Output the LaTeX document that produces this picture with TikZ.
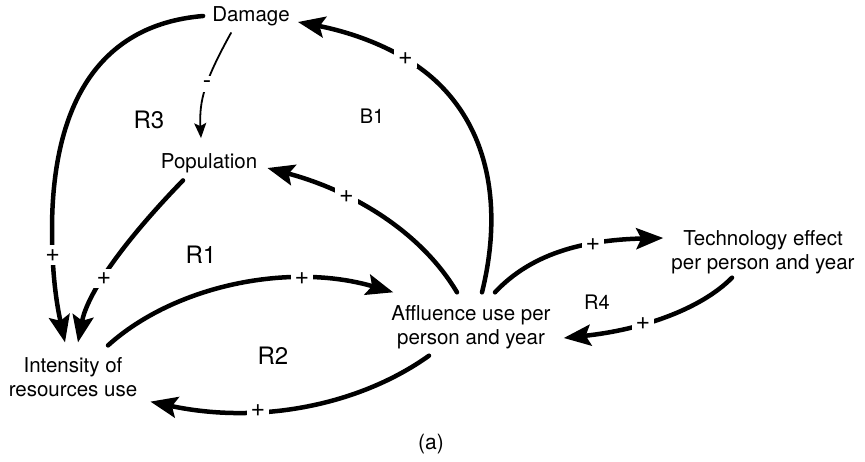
\documentclass[tikz,border=0pt]{standalone}
\usepackage{fontspec}
\setmainfont{TeX Gyre Heros}
\usetikzlibrary{arrows.meta}
\tikzset{>={Stealth[length=27pt,width=21pt,inset=5pt]}}
\tikzset{
  var/.style={inner sep=0pt, align=center, font=\fontsize{20.5}{23.5}\selectfont},
  loopname/.style={font=\fontsize{24}{26}\selectfont},
  link/.style={->, line width=4.5pt, line cap=round},
  thinlink/.style={-{Stealth[length=15pt,width=12pt,inset=3pt]}, line width=1.8pt, line cap=round},
  sign/.style={fill=white, inner sep=4pt, font=\fontsize{25}{25}\selectfont},
}

\begin{document}
\begin{tikzpicture}[x=1pt,y=-1pt]
  \useasboundingbox (0,0) rectangle (865,461);

  % variables
  \node[var] (dmg) at (251,16) {Damage};
  \node[var] (pop) at (209,163) {Population};
  \node[var] (intens) at (73,377) {Intensity of\\resources use};
  \node[var] (affl) at (471,327) {Affluence use per\\person and year};
  \node[var] (tech) at (763,252) {Technology effect\\per person and year};

  % loop names
  \node[loopname] (r1) at (201,255) {R1};
  \node[loopname] (r2) at (273,356) {R2};
  \node[loopname] (r3) at (149,120) {R3};
  \node[font=\fontsize{20}{22}\selectfont] (b1) at (372,116) {B1};
  \node[font=\fontsize{20}{22}\selectfont] (r4) at (597,302) {R4};
  \node[font=\fontsize{21}{23}\selectfont] (cap) at (431,444) {(a)};

  % links
  \draw[link] ([xshift=-9pt]dmg.west) .. controls (95,25) and (52,110) .. (52,230)
    .. controls (52,280) and (58,310) .. ([xshift=-8pt,yshift=15pt]intens.north)
    node[sign,pos=0.18] (sDI) {+};
  \draw[thinlink] ([xshift=-20pt,yshift=-7pt]dmg.south) .. controls (205,80) and (199,100)
    .. ([xshift=-8pt,yshift=15pt]pop.north) node[sign,pos=0.45] (sDP) {-};
  \draw[link] ([xshift=11pt,yshift=13pt]affl.north) .. controls (500,220) and (495,140) .. (440,85)
    .. controls (400,45) and (340,30) .. ([xshift=8pt,yshift=-6pt]dmg.east)
    node[sign,pos=0.26] (sAD) {+};
  \draw[link] ([xshift=-14pt,yshift=13pt]affl.north) .. controls (420,230) and (350,190)
    .. ([xshift=10pt,yshift=-5pt]pop.east) node[sign,pos=0.66] (sAP) {+};
  \draw[link] ([xshift=-26pt,yshift=-7.5pt]pop.south) .. controls (130,235) and (88,290)
    .. ([xshift=5pt,yshift=15pt]intens.north) node[sign,pos=0.6] (sPI) {+};
  \draw[link] ([xshift=35pt,yshift=12pt]intens.north) .. controls (175,285) and (290,262)
    .. ([xshift=2pt,yshift=13pt]affl.north west) node[sign,pos=0.71] (sIA) {+};
  \draw[link] ([xshift=-42pt,yshift=-7pt]affl.south) .. controls (360,405) and (260,425)
    .. ([xshift=13pt,yshift=-5pt]intens.south east) node[sign,pos=0.66] (sAI) {+};
  \draw[link] ([xshift=24pt,yshift=13pt]affl.north) .. controls (530,255) and (580,240)
    .. ([xshift=-8pt,yshift=14pt]tech.west) node[sign,pos=0.68] (sAT) {+};
  \draw[link] ([xshift=-31pt,yshift=-4pt]tech.south) .. controls (700,310) and (640,330)
    .. ([xshift=13pt,yshift=-11pt]affl.east) node[sign,pos=0.62] (sTA) {+};
\end{tikzpicture}
\end{document}
